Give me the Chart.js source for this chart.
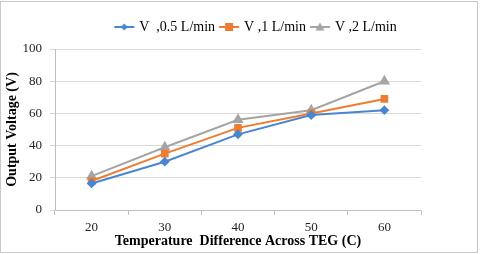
<!DOCTYPE html>
<html lang="en">
<head>
    <meta charset="UTF-8">
    <title>Output Voltage vs Temperature Difference</title>
    <script src="https://cdn.jsdelivr.net/npm/chart.js"></script>
    <style>
        body { margin: 0; background: #fff; }
        #wrap { width: 480px; height: 254px; position: relative; }
    </style>
</head>
<body>
<div id="wrap"><canvas id="myChart" width="480" height="254"></canvas></div>
<script>
    // datos
    const tempDiff = ['20', '30', '40', '50', '60'];
    const flow05 = [16.5, 30, 47, 59, 62];
    const flow1 = [18, 35, 51, 60, 69];
    const flow2 = [21, 39, 56, 62, 80];
    const yTicks = [0, 20, 40, 60, 80, 100];

    const serif = '"Liberation Serif", "Times New Roman", serif';

    // icono de leyenda: linea con marcador en el centro
    function legendIcon(color, shape) {
        const c = document.createElement('canvas');
        c.width = 22; c.height = 10;
        const g = c.getContext('2d');
        g.strokeStyle = color; g.fillStyle = color; g.lineWidth = 2;
        g.beginPath(); g.moveTo(1, 5); g.lineTo(21, 5); g.stroke();
        g.beginPath();
        if (shape === 'diamond') {
            g.moveTo(11, 1.5); g.lineTo(14.5, 5); g.lineTo(11, 8.5); g.lineTo(7.5, 5);
        } else if (shape === 'square') {
            g.rect(7, 1, 8, 8);
        } else {
            g.moveTo(11, 0.5); g.lineTo(15.5, 8.5); g.lineTo(6.5, 8.5);
        }
        g.closePath(); g.fill();
        return c;
    }

    const icons = [
        legendIcon('#4A86CF', 'diamond'),
        legendIcon('#ED7D31', 'square'),
        legendIcon('#A5A5A5', 'triangle')
    ];

    // marco gris alrededor de la imagen + mover la leyenda
    const framePlugin = {
        id: 'frame',
        afterLayout(chart) {
            const lg = chart.legend;
            lg.left += 46; lg.right += 46;
            lg.top -= 5; lg.bottom -= 5;
        },
        afterDraw(chart) {
            const ctx = chart.ctx;
            ctx.save();
            ctx.strokeStyle = '#c8c8c8';
            ctx.lineWidth = 1;
            ctx.strokeRect(0.5, 1.5, 477, 251);
            ctx.restore();
        }
    };

    const ctx = document.getElementById('myChart').getContext('2d');
    new Chart(ctx, {
        type: 'line',
        data: {
            labels: tempDiff,
            datasets: [
                {
                    label: 'V  ,0.5 L/min',
                    data: flow05,
                    borderColor: '#4A86CF',
                    backgroundColor: '#4A86CF',
                    pointStyle: 'rectRot',
                    pointRadius: 3.5,
                    borderWidth: 2
                },
                {
                    label: 'V ,1 L/min',
                    data: flow1,
                    borderColor: '#ED7D31',
                    backgroundColor: '#ED7D31',
                    pointStyle: 'rect',
                    pointRadius: 4,
                    borderWidth: 2
                },
                {
                    label: 'V ,2 L/min',
                    data: flow2,
                    borderColor: '#A5A5A5',
                    backgroundColor: '#A5A5A5',
                    pointStyle: 'triangle',
                    pointRadius: 4.5,
                    borderWidth: 2
                }
            ]
        },
        options: {
            responsive: false,
            animation: false,
            layout: { padding: { top: 19, right: 59, bottom: 4, left: 0 } },
            plugins: {
                legend: {
                    position: 'top',
                    labels: {
                        usePointStyle: true,
                        pointStyleWidth: 16,
                        boxHeight: 10,
                        padding: 6,
                        color: '#000',
                        font: { family: serif, size: 14 },
                        generateLabels(chart) {
                            const items = Chart.defaults.plugins.legend.labels.generateLabels(chart);
                            items.forEach((it, i) => { it.pointStyle = icons[i]; });
                            return items;
                        }
                    }
                },
                tooltip: { enabled: false }
            },
            scales: {
                x: {
                    offset: true,
                    grid: {
                        offset: true,
                        drawOnChartArea: false,
                        tickLength: 5,
                        color: '#bfbfbf'
                    },
                    border: { color: '#bfbfbf' },
                    ticks: {
                        color: '#222',
                        font: { family: serif, size: 13 },
                        padding: 5
                    },
                    title: {
                        display: true,
                        text: 'Temperature  Difference Across TEG (C)',
                        color: '#000',
                        font: { family: serif, size: 14, weight: 'bold' },
                        padding: { top: 0, bottom: 0 }
                    },
                    afterFit(scale) { scale.height = 40; }
                },
                y: {
                    min: 0,
                    max: 100,
                    afterBuildTicks(scale) {
                        scale.ticks = yTicks.map(v => ({ value: v }));
                    },
                    grid: {
                        color: '#d9d9d9',
                        tickLength: 5
                    },
                    border: { color: '#bfbfbf' },
                    ticks: {
                        color: '#222',
                        font: { family: serif, size: 13 },
                        padding: 8
                    },
                    title: {
                        display: true,
                        text: 'Output Voltage (V)',
                        color: '#000',
                        font: { family: serif, size: 14, weight: 'bold' },
                        padding: { top: 4, bottom: 0 }
                    },
                    afterFit(scale) { scale.width = 55; }
                }
            }
        },
        plugins: [framePlugin]
    });
</script>
</body>
</html>
